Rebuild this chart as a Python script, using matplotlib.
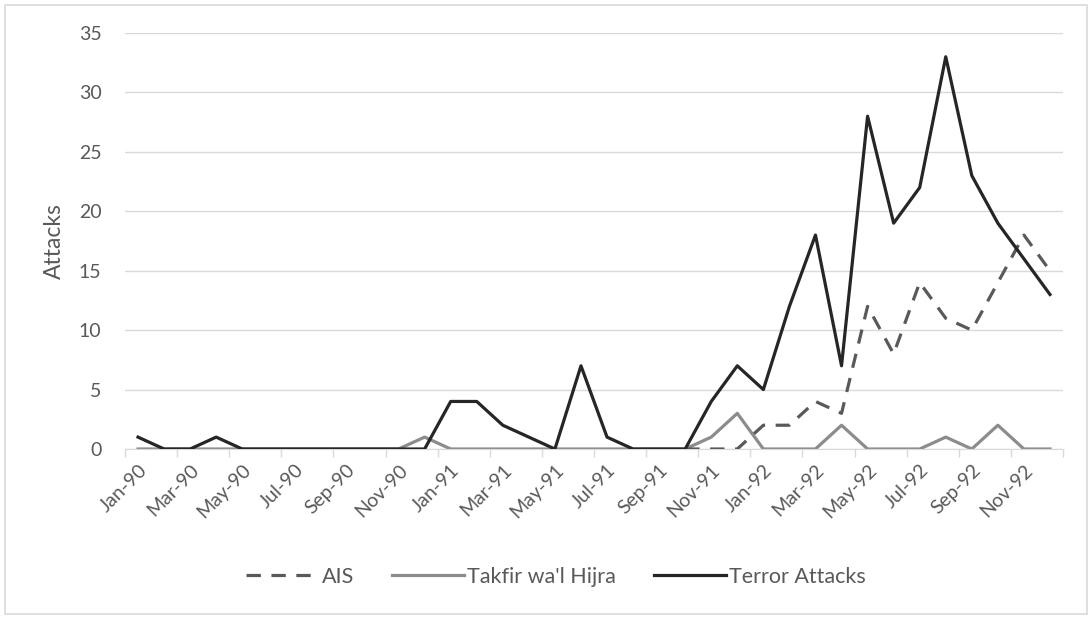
import numpy as np
import matplotlib
matplotlib.use("Agg")
import matplotlib.pyplot as plt
from matplotlib.patches import Rectangle

plt.rcParams['font.family'] = ['Lato', 'DejaVu Sans']

# monthly series, Jan-90 .. Dec-92
months = []
for yr in ["90", "91", "92"]:
    for m in ["Jan", "Feb", "Mar", "Apr", "May", "Jun", "Jul", "Aug", "Sep", "Oct", "Nov", "Dec"]:
        months.append(f"{m}-{yr}")

terror = [1, 0, 0, 1, 0, 0, 0, 0, 0, 0, 0, 0,
          4, 4, 2, 1, 0, 7, 1, 0, 0, 0, 4, 7,
          5, 12, 18, 7, 28, 19, 22, 33, 23, 19, 16, 13]
takfir = [0, 0, 0, 0, 0, 0, 0, 0, 0, 0, 0, 1,
          0, 0, 0, 0, 0, 0, 0, 0, 0, 0, 1, 3,
          0, 0, 0, 2, 0, 0, 0, 1, 0, 2, 0, 0]
# AIS only reported from Oct-91
ais_start = 21
ais = [0, 0, 0,
       2, 2, 4, 3, 12, 8, 14, 11, 10, 14, 18, 15]

W, H = 1092, 617
fig = plt.figure(figsize=(W / 100, H / 100), dpi=100)
ax = fig.add_axes([125 / W, 1 - 449 / H, (1063 - 125) / W, (449 - 33) / H])

x = np.arange(len(months))
txt = "#595959"

ax.plot(x[ais_start:], ais, color="#595959", lw=2.3, ls=(0, (4.5, 3.3)), label="AIS", zorder=3)
ax.plot(x, takfir, color="#8c8c8c", lw=2.3, label="Takfir wa'l Hijra", zorder=2)
ax.plot(x, terror, color="#262626", lw=2.3, label="Terror Attacks", zorder=4)

ax.set_xlim(-0.5, len(months) - 0.5)
ax.set_ylim(0, 35)
ax.set_yticks(np.arange(0, 36, 5))
ax.yaxis.grid(True, color="#d9d9d9", lw=1)
ax.set_axisbelow(True)

# ticks between categories, labels on every other category
ax.set_xticks(np.arange(-0.5, len(months), 2))
ax.set_xticklabels([])
ax.set_xticks(x[::2], minor=True)
ax.set_xticklabels(months[::2], minor=True, rotation=45, ha="right",
                   rotation_mode="anchor", color=txt, fontsize=14)
ax.tick_params(axis="x", which="major", length=6, color="#d9d9d9", width=1)
ax.tick_params(axis="x", which="minor", length=0, pad=9)
ax.tick_params(axis="y", length=0, pad=17, labelcolor=txt, labelsize=14)

for s in ["top", "right", "left"]:
    ax.spines[s].set_visible(False)
ax.spines["bottom"].set_color("#d9d9d9")

ax.set_ylabel("Attacks", color=txt, fontsize=16.5, labelpad=10)

handles, labels = ax.get_legend_handles_labels()
fig.legend(handles, labels, loc="center", bbox_to_anchor=(556 / W, 1 - 577 / H),
           ncol=3, frameon=False, fontsize=15.5, labelcolor=txt,
           handlelength=3.35, handletextpad=0.15, columnspacing=1.75)

fig.patches.append(Rectangle((5 / W, 1 - 614 / H), (1087 - 5) / W, (614 - 5) / H,
                             transform=fig.transFigure, fill=False,
                             edgecolor="#d9d9d9", lw=1.2))

fig.savefig("out.png", dpi=100, facecolor="white")
